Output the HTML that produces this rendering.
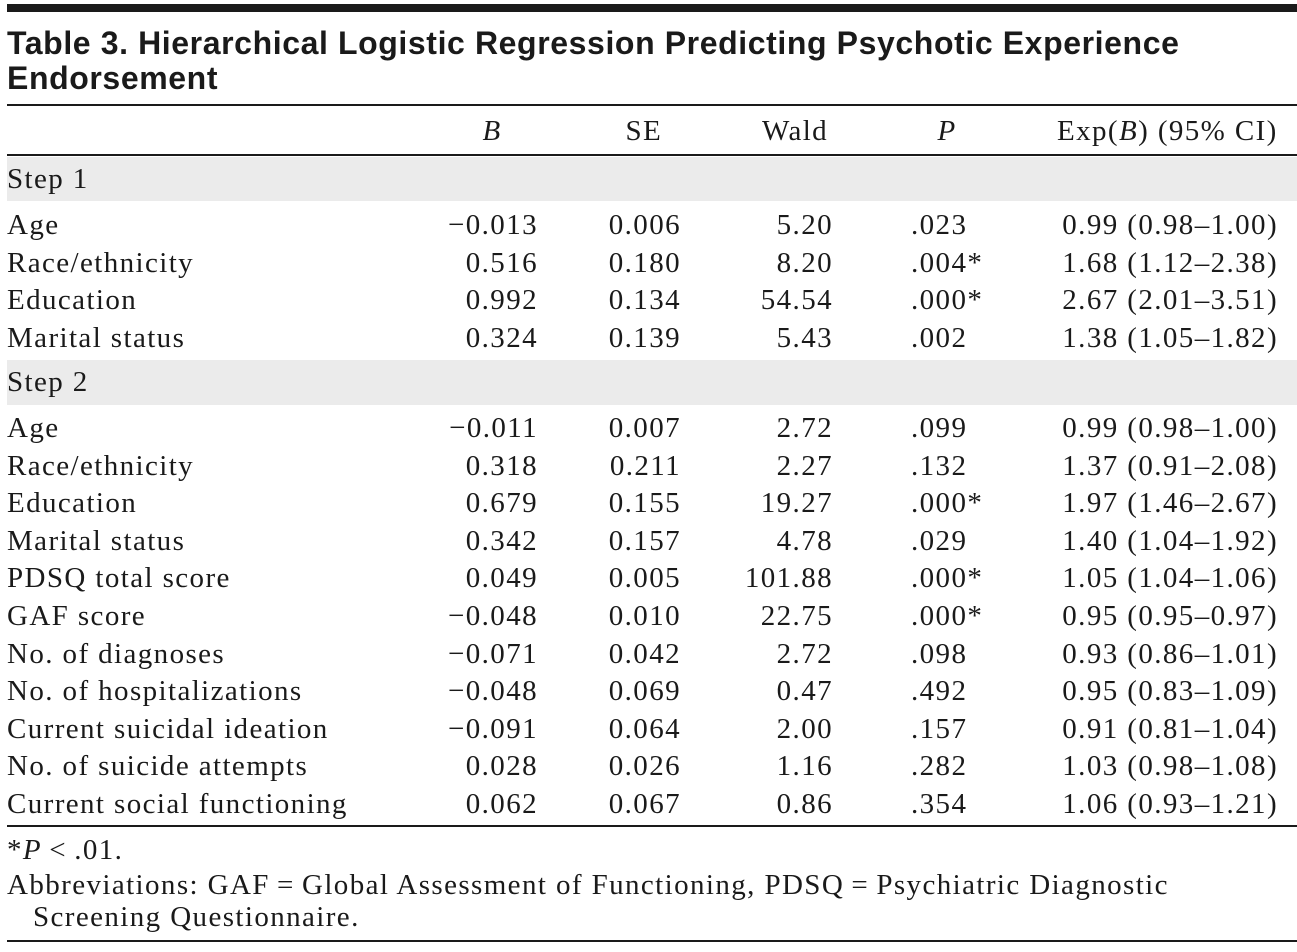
<!DOCTYPE html>
<html><head><meta charset="utf-8">
<style>
body{margin:0;width:1297px;height:952px;background:#fff;position:relative;overflow:hidden;font-family:"Liberation Serif",serif;color:#1a1a1a}
.t{position:absolute;font-size:29px;letter-spacing:1.4px;line-height:34px;white-space:nowrap}
.r{text-align:right}
.ln{position:absolute;left:7px;width:1290px;background:#1a1a1a}
.band{position:absolute;left:7px;width:1290px;background:#ebebeb}
.title{position:absolute;left:7px;top:26px;font-family:"Liberation Sans",sans-serif;font-weight:bold;font-size:32px;letter-spacing:0.6px;line-height:35px;color:#1a1a1a}
</style></head><body>
<div class="ln" style="top:4px;height:8px"></div>
<div class="title">Table 3. Hierarchical Logistic Regression Predicting Psychotic Experience<br>Endorsement</div>
<div class="ln" style="top:104px;height:2px"></div>
<div class="ln" style="top:154px;height:2px"></div>
<div class="band" style="top:157px;height:44px"></div>
<div class="band" style="top:360px;height:45px"></div>
<div class="ln" style="top:825px;height:2px"></div>
<div class="ln" style="top:940px;height:2px"></div>
<div id="tbl"></div>
<div class="t" style="left:7px;top:833px">*<i>P</i>&thinsp;&lt;&thinsp;.01.</div>
<div class="t" style="left:7px;top:868px">Abbreviations: GAF&thinsp;=&thinsp;Global Assessment of Functioning, PDSQ&thinsp;=&thinsp;Psychiatric Diagnostic</div>
<div class="t" style="left:33px;top:900px">Screening Questionnaire.</div>
<script>
const headers=['<i>B</i>','SE','Wald','<i>P</i>','Exp(<i>B</i>) (95% CI)'];
const step1Labels=['Age','Race/ethnicity','Education','Marital status'];
const step1B=['\u22120.013','0.516','0.992','0.324'];
const step1SE=['0.006','0.180','0.134','0.139'];
const step1Wald=['5.20','8.20','54.54','5.43'];
const step1P=['.023','.004*','.000*','.002'];
const step1Exp=['0.99 (0.98\u20131.00)','1.68 (1.12\u20132.38)','2.67 (2.01\u20133.51)','1.38 (1.05\u20131.82)'];
const step2Labels=['Age','Race/ethnicity','Education','Marital status','PDSQ total score','GAF score','No. of diagnoses','No. of hospitalizations','Current suicidal ideation','No. of suicide attempts','Current social functioning'];
const step2B=['\u22120.011','0.318','0.679','0.342','0.049','\u22120.048','\u22120.071','\u22120.048','\u22120.091','0.028','0.062'];
const step2SE=['0.007','0.211','0.155','0.157','0.005','0.010','0.042','0.069','0.064','0.026','0.067'];
const step2Wald=['2.72','2.27','19.27','4.78','101.88','22.75','2.72','0.47','2.00','1.16','0.86'];
const step2P=['.099','.132','.000*','.029','.000*','.000*','.098','.492','.157','.282','.354'];
const step2Exp=['0.99 (0.98\u20131.00)','1.37 (0.91\u20132.08)','1.97 (1.46\u20132.67)','1.40 (1.04\u20131.92)','1.05 (1.04\u20131.06)','0.95 (0.95\u20130.97)','0.93 (0.86\u20131.01)','0.95 (0.83\u20131.09)','0.91 (0.81\u20131.04)','1.03 (0.98\u20131.08)','1.06 (0.93\u20131.21)'];
const tbl=document.getElementById('tbl');
function cell(html,x,cy,right,name){
  const d=document.createElement('div');
  d.className='t'+(right?' r':'');
  d.innerHTML=html;
  d.style.top=(cy-17)+'px';
  if(right){d.style.right=(1297-x)+'px';}else{d.style.left=x+'px';}
  
  
  tbl.appendChild(d);
}
const hx=[[492,'c'],[644,'c'],[795,'c'],[947,'c'],[1278,'r']];
headers.forEach((h,i)=>{
  const d=document.createElement('div');
  d.className='t';d.innerHTML=h;d.style.top=(131-17)+'px';
  
  
  tbl.appendChild(d);
  const w=d.offsetWidth;
  d.style.left=(hx[i][1]==='r'?hx[i][0]-w:hx[i][0]-w/2)+'px';
});
cell('Step 1',7,179,false,'step1-label');
cell('Step 2',7,382,false,'step2-label');
function rows(labels,B,SE,W,P,E,y0,prefix){
  labels.forEach((l,i)=>{
    const cy=y0+i*37.6;
    cell(l,7,cy,false,prefix+'-row-label');
    cell(B[i],538,cy,true,prefix+'-b-value');
    cell(SE[i],681,cy,true,prefix+'-se-value');
    cell(W[i],833,cy,true,prefix+'-wald-value');
    cell(P[i],911,cy,false,prefix+'-p-value');
    cell(E[i],1278,cy,true,prefix+'-exp-value');
  });
}
rows(step1Labels,step1B,step1SE,step1Wald,step1P,step1Exp,225,'step1');
rows(step2Labels,step2B,step2SE,step2Wald,step2P,step2Exp,428,'step2');
</script>
</body></html>
